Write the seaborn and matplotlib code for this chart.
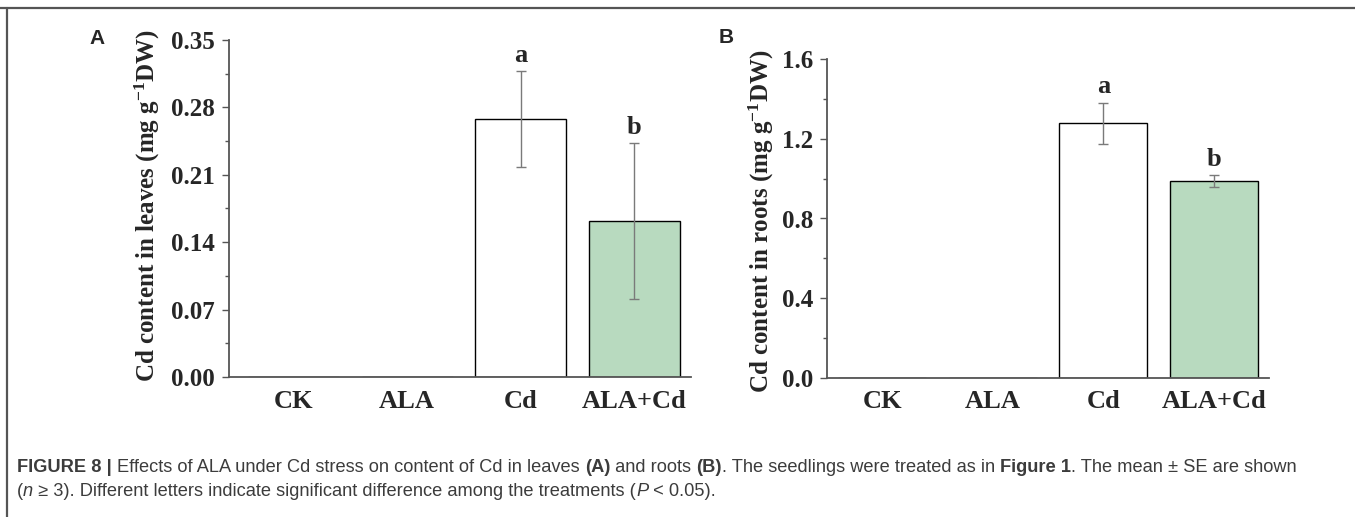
import numpy as np
import pandas as pd
import matplotlib
matplotlib.use("Agg")
import matplotlib.pyplot as plt
from matplotlib.lines import Line2D
from matplotlib.ticker import MultipleLocator, FormatStrFormatter
import seaborn as sns

# Treatments and Cd content (mean and SE)
treatments = ["CK", "ALA", "Cd", "ALA+Cd"]
leaf_cd = [0.0, 0.0, 0.268, 0.162]
leaf_se = [0.0, 0.0, 0.050, 0.081]
leaf_letters = ["", "", "a", "b"]
root_cd = [0.0, 0.0, 1.278, 0.987]
root_se = [0.0, 0.0, 0.103, 0.029]
root_letters = ["", "", "a", "b"]
bar_colors = ["white", "white", "white", "#b3dfbc"]

sns.set_theme(style="white")
plt.rcParams["font.family"] = ["Liberation Serif", "DejaVu Serif"]
plt.rcParams["font.weight"] = "bold"
plt.rcParams["mathtext.fontset"] = "custom"
plt.rcParams["mathtext.rm"] = "Liberation Serif:bold"
plt.rcParams["mathtext.it"] = "Liberation Serif:bold"
plt.rcParams["mathtext.bf"] = "Liberation Serif:bold"

W, H = 1355, 517
fig = plt.figure(figsize=(W / 100, H / 100), dpi=100)
fig.patch.set_facecolor("white")


def px_axes(left, top, right, bottom):
    return fig.add_axes([left / W, 1 - bottom / H, (right - left) / W, (bottom - top) / H])


ax_a = px_axes(229, 40, 691, 377)
ax_b = px_axes(827, 59, 1269, 378)

spine_col = "#555555"


def draw_panel(ax, values, errors, letters, ylabel, ymax, step, fmt, xlim, label_x, label_y):
    df = pd.DataFrame({"treatment": treatments, "cd": values})
    sns.barplot(data=df, x="treatment", y="cd", hue="treatment", palette=bar_colors,
                legend=False, edgecolor="black", linewidth=1.0, width=0.8,
                errorbar=None, ax=ax)
    pos = np.arange(len(treatments))
    vals = np.asarray(values)
    errs = np.asarray(errors)
    has = errs > 0
    ax.errorbar(pos[has], vals[has], yerr=errs[has], fmt="none", ecolor="#7a7a7a",
                elinewidth=1.0, capsize=3.5, capthick=1.0, zorder=5)
    for p, v, e, t in zip(pos, vals, errs, letters):
        if t:
            ax.annotate(t, xy=(p, v + e), xytext=(0, 3), textcoords="offset points",
                        ha="center", va="bottom", fontsize=19, fontweight="bold")
    ax.set_ylim(0, ymax)
    ax.set_xlim(*xlim)
    ax.yaxis.set_major_locator(MultipleLocator(step))
    ax.yaxis.set_minor_locator(MultipleLocator(step / 2))
    ax.yaxis.set_major_formatter(FormatStrFormatter(fmt))
    for s in ["top", "right"]:
        ax.spines[s].set_visible(False)
    for s in ["left", "bottom"]:
        ax.spines[s].set_color(spine_col)
        ax.spines[s].set_linewidth(1.3)
    ax.tick_params(axis="y", which="major", direction="out", length=5, width=1.0,
                   color=spine_col, labelsize=18, pad=5, left=True)
    ax.tick_params(axis="y", which="minor", direction="out", length=3, width=1.0,
                   color=spine_col, left=True)
    ax.tick_params(axis="x", length=0, labelsize=19, pad=9)
    ax.set_xlabel("")
    ax.set_ylabel(ylabel, fontsize=18, fontweight="bold")
    ax.yaxis.set_label_coords(label_x, label_y)
    for lab in ax.get_xticklabels() + ax.get_yticklabels():
        lab.set_fontweight("bold")


draw_panel(ax_a, leaf_cd, leaf_se, leaf_letters,
           r"Cd content in leaves (mg g$^{-1}$DW)", 0.35, 0.07, "%.2f",
           (-0.57, 3.5), -0.145, 0.51)
draw_panel(ax_b, root_cd, root_se, root_letters,
           r"Cd content in roots (mg g$^{-1}$DW)", 1.6, 0.4, "%.1f",
           (-0.5, 3.5), -0.115, 0.49)

# Panel letters
fig.text(89 / W, 1 - 44 / H, "A", family="Liberation Sans", fontweight="bold",
         fontsize=15, va="baseline", ha="left")
fig.text(719 / W, 1 - 43 / H, "B", family="Liberation Sans", fontweight="bold",
         fontsize=15, va="baseline", ha="left")

# Figure frame
fig.add_artist(Line2D([0, 1], [1 - 8 / H] * 2, transform=fig.transFigure,
                      color=spine_col, lw=1.6))
fig.add_artist(Line2D([7 / W, 7 / W], [0, 1 - 8 / H], transform=fig.transFigure,
                      color=spine_col, lw=1.6))

# Caption with mixed styles
renderer = fig.canvas.get_renderer()
cap_col = "#3c3c3c"
cap_family = ["Liberation Sans", "DejaVu Sans"]


def seg_width(text, size, weight, style):
    t1 = fig.text(0, 0, "|" + text + "|", fontsize=size, fontweight=weight,
                  fontstyle=style, family=cap_family)
    t2 = fig.text(0, 0, "||", fontsize=size, fontweight=weight,
                  fontstyle=style, family=cap_family)
    w = t1.get_window_extent(renderer).width - t2.get_window_extent(renderer).width
    t1.remove()
    t2.remove()
    return w


def draw_runs(runs, x0, baseline, size):
    x = x0
    for text, weight, style in runs:
        fig.text(x / W, 1 - baseline / H, text, fontsize=size, fontweight=weight,
                 fontstyle=style, family=cap_family, color=cap_col, va="baseline",
                 ha="left")
        x += seg_width(text, size, weight, style)
    return x


line1 = [("FIGURE 8 | ", "bold", "normal"),
         ("Effects of ALA under Cd stress on content of Cd in leaves ", "normal", "normal"),
         ("(A)", "bold", "normal"),
         (" and roots ", "normal", "normal"),
         ("(B)", "bold", "normal"),
         (". The seedlings were treated as in ", "normal", "normal"),
         ("Figure 1", "bold", "normal"),
         (". The mean \u00b1 SE are shown", "normal", "normal")]
line2 = [("(", "normal", "normal"),
         ("n", "normal", "italic"),
         (" \u2265 3). Different letters indicate significant difference among the treatments (",
          "normal", "normal"),
         ("P", "normal", "italic"),
         (" < 0.05).", "normal", "normal")]

ref_size = 10.0
w_ref = sum(seg_width(t, ref_size, w, s) for t, w, s in line1)
cap_size = ref_size * (1298 - 17) / w_ref
draw_runs(line1, 17, 472, cap_size)
draw_runs(line2, 17, 496, cap_size)

fig.savefig("out.png", dpi=100, facecolor="white")
